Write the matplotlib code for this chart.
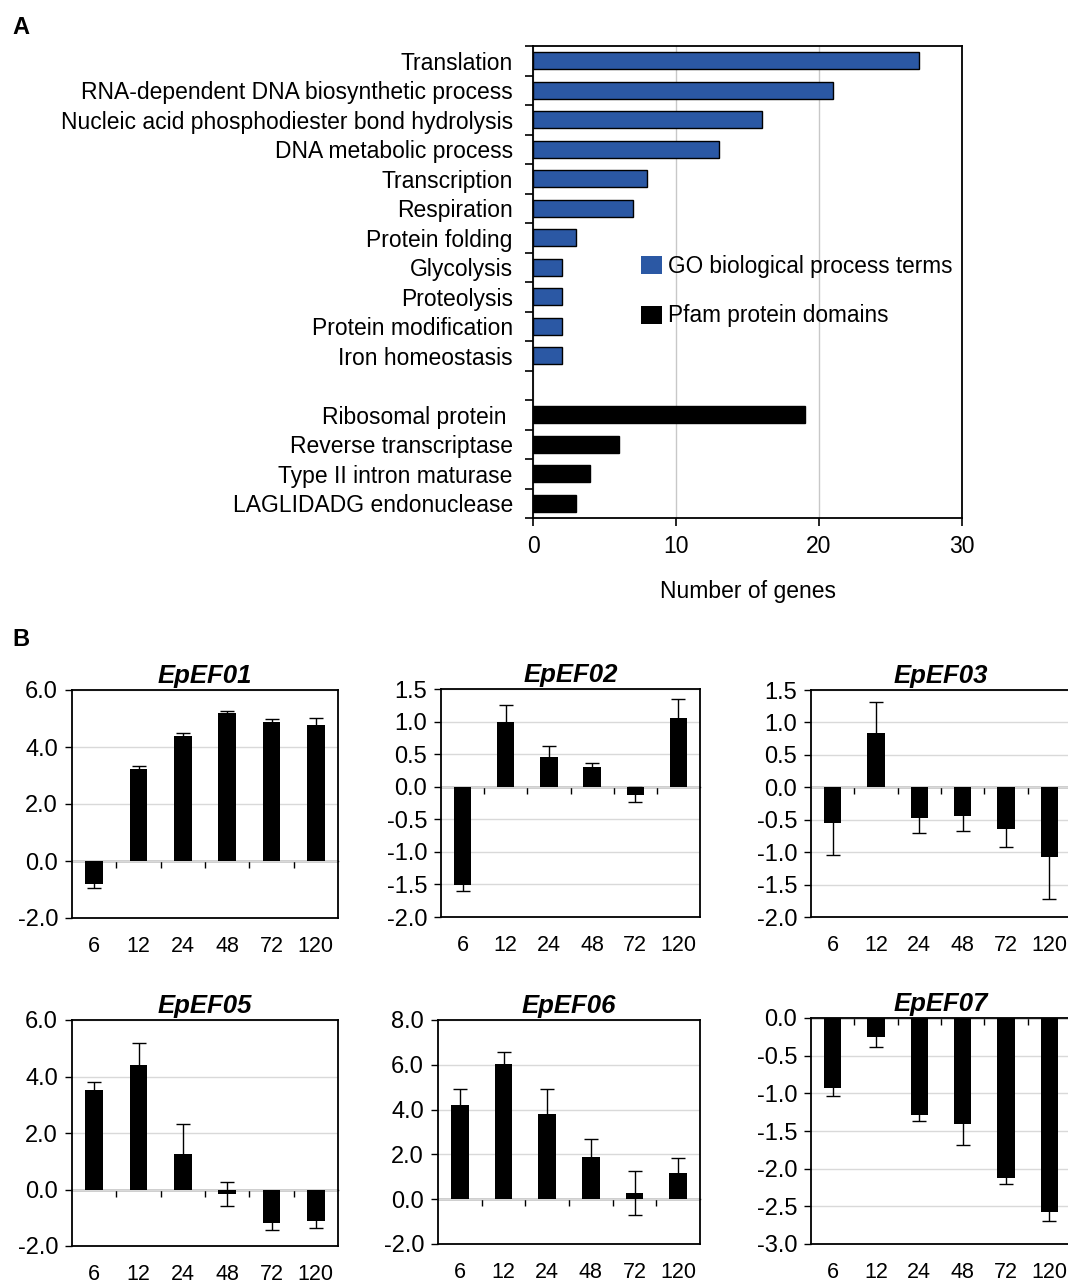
import numpy as np
import matplotlib
matplotlib.use("Agg")
import matplotlib.pyplot as plt
from matplotlib.patches import Patch

plt.rcParams['font.family'] = ['Liberation Sans', 'DejaVu Sans']

# ---- panel A: functional categories ----
go_terms = ['Translation', 'RNA-dependent DNA biosynthetic process',
            'Nucleic acid phosphodiester bond hydrolysis', 'DNA metabolic process',
            'Transcription', 'Respiration', 'Protein folding', 'Glycolysis',
            'Proteolysis', 'Protein modification', 'Iron homeostasis']
go_counts = [27, 21, 16, 13, 8, 7, 3, 2, 2, 2, 2]
pfam_terms = ['Ribosomal protein ', 'Reverse transcriptase',
              'Type II intron maturase', 'LAGLIDADG endonuclease']
pfam_counts = [19, 6, 4, 3]

# ---- panel B: qRT-PCR time course ----
hours = ['6', '12', '24', '48', '72', '120']
genes = ['EpEF01', 'EpEF02', 'EpEF03', 'EpEF05', 'EpEF06', 'EpEF07']
expr = {
    'EpEF01': [-0.82, 3.23, 4.40, 5.18, 4.87, 4.76],
    'EpEF02': [-1.51, 0.99, 0.46, 0.31, -0.12, 1.06],
    'EpEF03': [-0.55, 0.83, -0.48, -0.44, -0.65, -1.08],
    'EpEF05': [3.51, 4.42, 1.24, -0.15, -1.17, -1.11],
    'EpEF06': [4.20, 6.05, 3.80, 1.90, 0.28, 1.18],
    'EpEF07': [-0.93, -0.25, -1.29, -1.41, -2.12, -2.57],
}
expr_err = {
    'EpEF01': [0.14, 0.12, 0.09, 0.07, 0.11, 0.27],
    'EpEF02': [0.09, 0.27, 0.17, 0.06, 0.11, 0.29],
    'EpEF03': [0.50, 0.49, 0.23, 0.24, 0.27, 0.65],
    'EpEF05': [0.31, 0.76, 1.07, 0.42, 0.25, 0.27],
    'EpEF06': [0.73, 0.53, 1.10, 0.77, 0.97, 0.65],
    'EpEF07': [0.11, 0.14, 0.08, 0.28, 0.09, 0.12],
}
y_ranges = {
    'EpEF01': (-2, 6, 2), 'EpEF02': (-2, 1.5, 0.5), 'EpEF03': (-2, 1.5, 0.5),
    'EpEF05': (-2, 6, 2), 'EpEF06': (-2, 8, 2), 'EpEF07': (-3, 0, 0.5),
}

W, H = 1068, 1284
fig = plt.figure(figsize=(W / 100, H / 100), dpi=100)

def fbox(left, top, right, bottom):
    return [left / W, 1 - bottom / H, (right - left) / W, (bottom - top) / H]

# panel A
axA = fig.add_axes(fbox(533, 46, 962, 518))
labels = go_terms + [''] + pfam_terms
n = len(labels)
pos_go = np.arange(len(go_terms))
pos_pf = np.arange(len(pfam_terms)) + len(go_terms) + 1
axA.barh(pos_go, go_counts, height=0.58, color='#2b58a4', edgecolor='black', linewidth=1.0, zorder=3)
axA.barh(pos_pf, pfam_counts, height=0.58, color='black', edgecolor='black', linewidth=1.0, zorder=3)
axA.set_ylim(n - 0.5, -0.5)
axA.set_xlim(0, 30)
axA.set_yticks(np.arange(n))
axA.set_yticklabels(labels, fontsize=16.5)
axA.set_yticks(np.arange(n + 1) - 0.5, minor=True)
axA.tick_params(axis='y', which='major', length=0, pad=14.5)
axA.tick_params(axis='y', which='minor', length=6, width=1.2, direction='out')
axA.set_xticks([0, 10, 20, 30])
axA.tick_params(axis='x', labelsize=16.5, length=6, width=1.2, pad=6)
axA.grid(axis='x', color='#c8c8c8', linewidth=1.0, zorder=0)
for s in axA.spines.values():
    s.set_linewidth(1.3)
axA.set_xlabel('Number of genes', fontsize=16.5, labelpad=16)
handles = [Patch(facecolor='#2b58a4', edgecolor='none'), Patch(facecolor='black', edgecolor='none')]
fig.legend(handles, ['GO biological process terms', 'Pfam protein domains'],
           loc='upper left', bbox_to_anchor=(641 / W, 1 - 255 / H), frameon=False,
           fontsize=16.3, handlelength=0.93, handleheight=0.85, handletextpad=0.28,
           labelspacing=1.17, borderpad=0, borderaxespad=0)

fig.text(12 / W, 1 - 27 / H, 'A', fontsize=17, fontweight='bold', va='center')
fig.text(12 / W, 1 - 639 / H, 'B', fontsize=17, fontweight='bold', va='center')

# panel B
boxes = {
    'EpEF01': (72, 690, 338, 918),
    'EpEF02': (441, 689, 700, 917),
    'EpEF03': (811, 690, 1071, 917),
    'EpEF05': (72, 1020, 338, 1246),
    'EpEF06': (438, 1020, 700, 1244),
    'EpEF07': (811, 1018, 1071, 1244),
}
x = np.arange(len(hours))
for g in genes:
    ax = fig.add_axes(fbox(*boxes[g]))
    lo, hi, step = y_ranges[g]
    ax.bar(x, expr[g], width=0.4, color='black', zorder=3,
           yerr=expr_err[g], error_kw=dict(ecolor='black', elinewidth=1.0, capsize=5, capthick=1.0))
    ax.set_xlim(-0.5, len(hours) - 0.5)
    ax.set_ylim(lo, hi)
    ticks = np.arange(lo, hi + step / 2, step)
    ax.set_yticks(ticks)
    ax.set_yticklabels(['%.1f' % t for t in ticks], fontsize=17)
    ax.set_xticks(x)
    ax.set_xticklabels(hours, fontsize=15.5)
    ax.tick_params(axis='x', length=0, pad=13)
    ax.tick_params(axis='y', length=5, width=1.0, pad=5)
    ax.grid(axis='y', color='#d9d9d9', linewidth=1.0, zorder=0)
    for s in ax.spines.values():
        s.set_linewidth(1.3)
    # category axis crossing at zero
    zax = ax.secondary_xaxis(0, transform=ax.transData)
    zax.set_xticks(np.arange(1, len(hours)) - 0.5)
    zax.set_xticklabels([])
    zax.tick_params(length=5, width=1.0, direction='out')
    zax.spines['bottom'].set_linewidth(1.0)
    ax.set_title(g, fontsize=18.5, fontweight='bold', style='italic', pad=5)

fig.savefig('out.png', dpi=100)
